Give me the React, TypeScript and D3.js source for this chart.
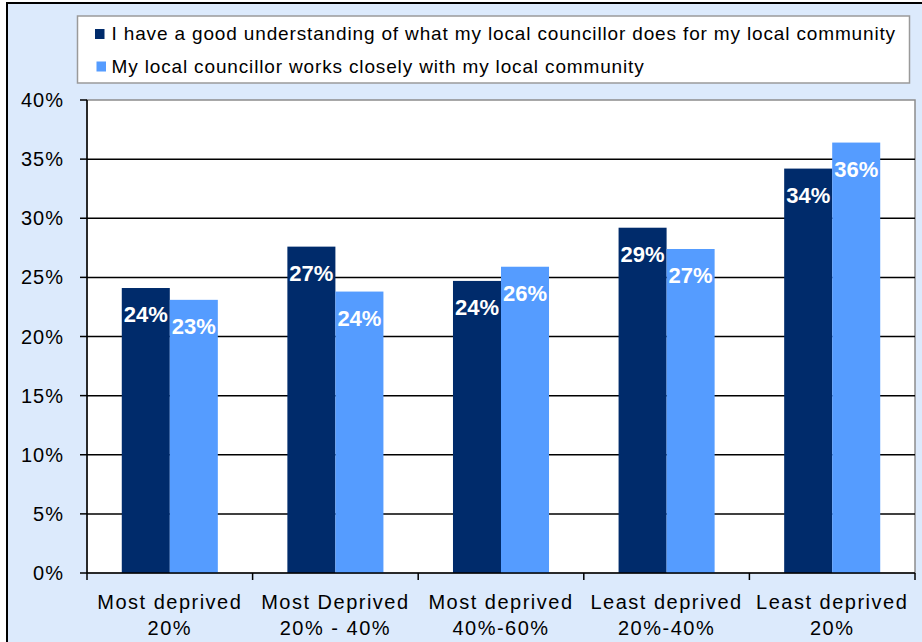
import * as d3 from 'd3';

const categories = ['md20', 'md2040', 'md4060', 'ld2040', 'ld20'];
const categoryLines = [
  ['Most deprived', '20%'],
  ['Most Deprived', '20% - 40%'],
  ['Most deprived', '40%-60%'],
  ['Least deprived', '20%-40%'],
  ['Least deprived', '20%'],
];
const seriesNames = [
  'I have a good understanding of what my local councillor does for my local community',
  'My local councillor works closely with my local community',
];
const understandingValues = [24.1, 27.6, 24.7, 29.2, 34.2];
const worksCloselyValues = [23.1, 23.8, 25.9, 27.4, 36.4];
const understandingLabels = ['24%', '27%', '24%', '29%', '34%'];
const worksCloselyLabels = ['23%', '24%', '26%', '27%', '36%'];
const yTicks = [0, 5, 10, 15, 20, 25, 30, 35, 40];

const colors = ['#002b6b', '#559cff'];
const bg = '#dceafc';
const font = 'Arial, "Liberation Sans", sans-serif';

export default function App() {
  const width = 922;
  const height = 642;
  const plot = { left: 87, right: 915, top: 100, bottom: 573 };

  const y = d3.scaleLinear().domain([0, 40]).range([plot.bottom, plot.top]);
  const x0 = d3.scaleBand<string>().domain(categories).range([plot.left, plot.right]);
  const bw = x0.bandwidth();
  const x1 = d3
    .scaleBand<number>()
    .domain([0, 1])
    .range([bw * 0.21, bw * 0.79]);

  const series = [
    { values: understandingValues, labels: understandingLabels },
    { values: worksCloselyValues, labels: worksCloselyLabels },
  ];

  const boundaries = categories.map((c) => x0(c) as number).concat([plot.right]);

  return (
    <svg
      width={width}
      height={height}
      style={{ position: 'absolute', left: 0, top: 0, fontFamily: font }}
    >
      <rect x={0} y={0} width={width} height={height} fill="#ffffff" />
      {/* outer chart frame */}
      <rect x={7} y={3} width={1000} height={1000} fill={bg} stroke="#000" strokeWidth={2} />

      {/* legend */}
      <rect x={77.5} y={16} width={832} height={67} fill="#fff" stroke="#9a9a9a" strokeWidth={1.5} />
      {seriesNames.map((name, i) => (
        <g key={name} transform={`translate(95, ${i === 0 ? 40 : 72.5})`}>
          <rect x={i === 0 ? 0 : 1.5} y={-11} width={9.5} height={10} fill={colors[i]} />
          <text x={16.5} y={0} fontSize={19} letterSpacing={0.85} fill="#000">
            {name}
          </text>
        </g>
      ))}

      {/* plot area */}
      <rect
        x={plot.left}
        y={plot.top}
        width={plot.right - plot.left}
        height={plot.bottom - plot.top}
        fill="#fff"
        stroke="#8c8c8c"
        strokeWidth={1.5}
      />
      {yTicks
        .filter((t) => t > 0 && t < 40)
        .map((t) => (
          <line
            key={t}
            x1={plot.left}
            x2={plot.right}
            y1={y(t)}
            y2={y(t)}
            stroke="#000"
            strokeWidth={1.5}
          />
        ))}

      {/* bars */}
      {series.map((s, si) =>
        categories.map((c, ci) => {
          const bx = (x0(c) as number) + (x1(si) as number);
          const top = y(s.values[ci]);
          return (
            <g key={`${si}-${c}`}>
              <rect
                x={bx}
                y={top}
                width={x1.bandwidth()}
                height={plot.bottom - top}
                fill={colors[si]}
              />
              <text
                x={bx + x1.bandwidth() / 2}
                y={top + 34}
                textAnchor="middle"
                fontSize={22}
                fontWeight="bold"
                fill="#fff"
              >
                {s.labels[ci]}
              </text>
            </g>
          );
        })
      )}

      {/* y axis */}
      <line x1={plot.left} x2={plot.left} y1={plot.top} y2={plot.bottom} stroke="#000" strokeWidth={1.5} />
      {yTicks.map((t) => (
        <g key={t}>
          <line x1={plot.left - 7} x2={plot.left} y1={y(t)} y2={y(t)} stroke="#000" strokeWidth={1.5} />
          <text
            x={64}
            y={y(t) + 7}
            textAnchor="end"
            fontSize={20}
            letterSpacing={1}
            fill="#000"
          >
            {t}%
          </text>
        </g>
      ))}

      {/* x axis */}
      <line x1={plot.left} x2={plot.right} y1={plot.bottom} y2={plot.bottom} stroke="#000" strokeWidth={1.5} />
      {boundaries.map((bx, i) => (
        <line key={i} x1={bx} x2={bx} y1={plot.bottom} y2={plot.bottom + 7} stroke="#000" strokeWidth={1.5} />
      ))}
      {categories.map((c, i) => (
        <text
          key={c}
          x={(x0(c) as number) + bw / 2}
          textAnchor="middle"
          fontSize={20}
          letterSpacing={1.5}
          fill="#000"
        >
          <tspan x={(x0(c) as number) + bw / 2} y={609}>
            {categoryLines[i][0]}
          </tspan>
          <tspan x={(x0(c) as number) + bw / 2} y={635}>
            {categoryLines[i][1]}
          </tspan>
        </text>
      ))}
    </svg>
  );
}
